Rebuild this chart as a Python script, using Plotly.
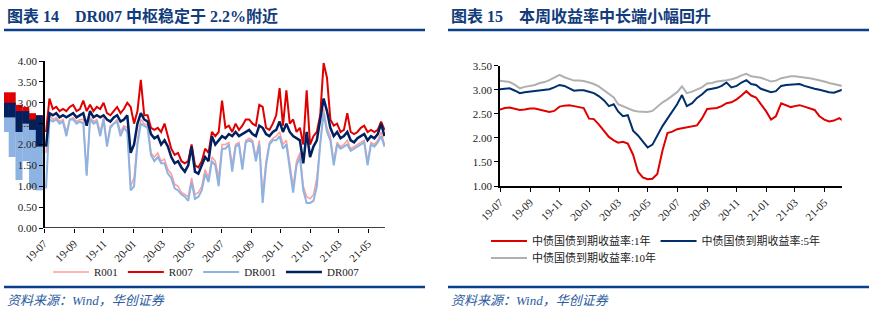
import plotly.graph_objects as go

# ---------------- Left chart data (weekly samples) ----------------
left_dates = [
    '2019-07-05','2019-07-12','2019-07-19','2019-07-26','2019-08-02','2019-08-09','2019-08-16','2019-08-23','2019-08-30',
    '2019-09-06','2019-09-13','2019-09-20','2019-09-27','2019-10-04','2019-10-11','2019-10-18','2019-10-25','2019-11-01',
    '2019-11-08','2019-11-15','2019-11-22','2019-11-29','2019-12-06','2019-12-13','2019-12-20','2019-12-27','2020-01-03',
    '2020-01-10','2020-01-17','2020-01-24','2020-01-31','2020-02-07','2020-02-14','2020-02-21','2020-02-28','2020-03-06',
    '2020-03-13','2020-03-20','2020-03-27','2020-04-03','2020-04-10','2020-04-17','2020-04-24','2020-05-01','2020-05-08',
    '2020-05-15','2020-05-22','2020-05-29','2020-06-05','2020-06-12','2020-06-19','2020-06-26','2020-07-03','2020-07-10',
    '2020-07-17','2020-07-24','2020-07-31','2020-08-07','2020-08-14','2020-08-21','2020-08-28','2020-09-04','2020-09-11',
    '2020-09-18','2020-09-25','2020-10-02','2020-10-09','2020-10-16','2020-10-23','2020-10-30','2020-11-06','2020-11-13',
    '2020-11-20','2020-11-27','2020-12-04','2020-12-11','2020-12-18','2020-12-25','2021-01-01','2021-01-08','2021-01-15',
    '2021-01-22','2021-01-29','2021-02-05','2021-02-12','2021-02-19','2021-02-26','2021-03-05','2021-03-12','2021-03-19',
    '2021-03-26','2021-04-02','2021-04-09','2021-04-16','2021-04-23','2021-04-30','2021-05-07','2021-05-14','2021-05-21',
    '2021-05-28','2021-06-04']

dr007 = [1.95,2.75,2.7,2.75,2.65,2.7,2.65,2.7,2.75,2.65,2.7,2.75,2.45,2.8,2.65,2.7,2.65,2.7,2.6,2.55,2.65,2.7,2.55,2.6,2.7,
         1.8,2.0,2.5,2.75,2.6,2.55,2.25,2.15,2.2,2.0,2.1,1.95,1.7,1.55,1.6,1.45,1.35,1.5,1.95,1.35,1.3,1.5,1.7,1.6,2.2,
         2.0,2.1,2.2,2.15,2.25,2.2,2.3,2.2,2.25,2.3,2.35,2.25,2.2,2.45,2.4,2.25,2.2,2.3,2.35,2.55,2.3,2.5,2.3,2.2,2.15,
         2.1,1.55,2.3,1.7,1.95,2.1,2.6,3.1,2.8,2.4,2.2,2.3,2.15,2.2,2.3,2.1,2.05,2.15,2.2,2.25,2.1,2.2,2.15,2.25,2.5,2.2]
r007 = [2.3,3.1,2.85,2.9,2.8,2.85,2.8,2.9,2.95,2.8,2.85,3.05,2.8,2.95,2.8,2.9,2.85,3.0,2.75,2.7,2.8,2.9,2.75,2.85,3.0,
        2.9,2.5,2.8,3.55,2.7,2.7,2.4,2.35,2.4,2.3,2.5,2.2,1.9,1.75,1.8,1.6,1.55,1.6,2.0,1.5,1.45,1.6,1.9,1.8,2.3,
        2.2,2.3,3.05,2.4,2.45,2.3,2.5,2.35,2.45,2.6,2.6,2.5,2.45,2.95,2.9,2.4,2.35,2.5,2.7,3.35,2.45,3.3,2.5,2.6,2.3,
        2.4,2.0,3.3,2.0,2.2,2.3,2.7,3.95,3.6,2.6,2.45,2.5,2.3,2.35,2.75,2.3,2.25,2.3,2.4,2.45,2.3,2.35,2.3,2.35,2.55,2.35]
dr001 = [0.95,2.6,2.55,2.6,2.5,2.55,2.2,2.6,2.6,2.5,2.55,2.5,1.25,2.6,2.5,2.55,2.2,2.6,1.95,2.4,2.5,2.55,2.2,2.4,2.3,
         0.9,1.0,2.0,2.5,2.45,2.4,1.75,1.6,1.7,1.55,1.55,1.3,1.2,0.95,0.9,0.8,0.75,0.65,1.1,0.7,0.75,0.9,1.3,1.1,1.6,
         1.5,1.0,1.9,1.9,2.0,1.35,1.95,2.0,1.4,2.05,2.1,2.05,1.6,2.0,0.6,1.5,2.0,2.1,2.1,2.2,1.9,2.0,1.4,0.85,1.5,
         1.7,0.9,0.6,0.6,0.65,1.0,2.0,2.75,2.3,2.1,1.5,2.0,1.9,1.95,2.0,1.85,1.9,1.95,2.0,2.05,1.5,2.0,1.95,2.05,2.2,1.95]
r001 = [1.8,2.7,2.6,2.65,2.55,2.6,2.3,2.6,2.65,2.55,2.6,2.6,1.3,2.65,2.55,2.6,2.3,2.65,2.0,2.45,2.5,2.6,2.3,2.45,2.4,
        1.0,1.2,2.1,2.6,2.5,2.45,1.8,1.7,1.8,1.6,1.65,1.4,1.3,1.05,1.0,0.85,0.8,0.75,1.2,0.8,0.85,1.0,1.4,1.2,1.7,
        1.6,1.2,2.0,2.0,2.05,1.5,2.0,2.05,1.5,2.1,2.15,2.1,1.7,2.1,0.8,1.6,2.05,2.15,2.2,2.3,2.0,2.1,1.6,1.0,1.6,
        1.8,1.0,0.75,0.7,0.8,1.2,2.1,2.85,2.4,2.2,1.6,2.05,1.95,2.0,2.1,1.9,1.95,2.0,2.05,2.1,1.6,2.05,2.0,2.1,2.3,2.0]

# early-period readings drawn left of the axis in the source (high / low per block)
pre_dates = ['2019-04-12','2019-04-26','2019-05-10','2019-05-24','2019-06-07','2019-06-21']
pre_r001_hi = [2.8,2.7,2.5,2.6,2.3,2.1];   pre_r001_lo = [2.5,2.4,2.2,2.3,1.9,1.8]
pre_r007_hi = [3.25,3.25,2.95,2.9,2.75,2.7]; pre_r007_lo = [2.75,2.75,2.6,2.6,2.1,2.1]
pre_dr001_hi = [2.95,2.95,2.4,2.6,2.4,2.1]; pre_dr001_lo = [2.3,1.7,1.15,1.6,0.95,0.9]
pre_dr007_hi = [3.0,3.0,2.8,2.8,2.6,2.7];  pre_dr007_lo = [2.65,2.65,2.3,2.5,2.35,1.95]

left_names = ['R001','R007','DR001','DR007']
left_tickvals = ['2019-07-01','2019-09-01','2019-11-01','2020-01-01','2020-03-01','2020-05-01',
                 '2020-07-01','2020-09-01','2020-11-01','2021-01-01','2021-03-01','2021-05-01']
left_ticktext = ['19-07','19-09','19-11','20-01','20-03','20-05','20-07','20-09','20-11','21-01','21-03','21-05']

# ---------------- Right chart data ----------------
right_dates = [
    '2019-07-01','2019-07-11','2019-07-21','2019-08-01','2019-08-11','2019-08-21','2019-09-01','2019-09-11','2019-09-21',
    '2019-10-01','2019-10-11','2019-10-21','2019-11-01','2019-11-11','2019-11-21','2019-12-01','2019-12-11','2019-12-21',
    '2020-01-01','2020-01-11','2020-01-21','2020-02-01','2020-02-11','2020-02-21','2020-03-01','2020-03-11','2020-03-21',
    '2020-04-01','2020-04-11','2020-04-21','2020-05-01','2020-05-11','2020-05-21','2020-06-01','2020-06-11','2020-06-21',
    '2020-07-01','2020-07-11','2020-07-21','2020-08-01','2020-08-11','2020-08-21','2020-09-01','2020-09-11','2020-09-21',
    '2020-10-01','2020-10-11','2020-10-21','2020-11-01','2020-11-11','2020-11-21','2020-12-01','2020-12-11','2020-12-21',
    '2021-01-01','2021-01-11','2021-01-21','2021-02-01','2021-02-11','2021-02-21','2021-03-01','2021-03-11','2021-03-21',
    '2021-04-01','2021-04-11','2021-04-21','2021-05-01','2021-05-11','2021-05-21','2021-06-01','2021-06-07']
y1 = [2.59,2.62,2.63,2.6,2.58,2.59,2.61,2.61,2.59,2.56,2.54,2.56,2.65,2.67,2.68,2.66,2.64,2.62,
      2.4,2.39,2.28,2.15,2.02,1.95,1.9,1.92,1.88,1.65,1.3,1.18,1.14,1.15,1.25,1.75,2.1,2.13,
      2.18,2.2,2.22,2.24,2.26,2.4,2.6,2.61,2.62,2.66,2.72,2.74,2.8,2.88,2.97,2.88,2.84,2.7,
      2.55,2.38,2.45,2.72,2.68,2.64,2.66,2.68,2.65,2.61,2.58,2.45,2.38,2.34,2.36,2.41,2.37]
y5 = [3.01,3.02,3.03,2.98,2.93,2.95,2.96,2.97,2.98,3.0,3.01,3.05,3.1,3.08,3.03,2.98,2.99,2.99,
      2.96,2.93,2.87,2.78,2.66,2.7,2.55,2.45,2.47,2.15,2.05,1.92,1.8,1.86,2.05,2.25,2.4,2.55,
      2.7,2.89,2.66,2.72,2.83,2.9,3.0,3.02,3.04,3.08,3.15,3.05,3.08,3.15,3.2,3.12,3.1,3.02,
      2.98,2.95,2.97,3.08,3.1,3.11,3.12,3.12,3.08,3.04,3.02,3.0,2.97,2.95,2.94,2.97,3.0]
y10 = [3.19,3.17,3.16,3.1,3.03,3.06,3.08,3.1,3.14,3.16,3.2,3.25,3.31,3.26,3.22,3.19,3.19,3.18,
       3.15,3.12,3.07,2.99,2.9,2.84,2.7,2.66,2.62,2.57,2.55,2.55,2.54,2.56,2.65,2.74,2.8,2.88,
       2.95,3.07,2.93,2.96,3.0,3.05,3.13,3.14,3.17,3.18,3.2,3.22,3.25,3.3,3.33,3.28,3.27,3.25,
       3.21,3.17,3.19,3.24,3.26,3.28,3.28,3.27,3.25,3.24,3.22,3.2,3.17,3.14,3.12,3.1,3.08]
right_names = ['中债国债到期收益率:1年','中债国债到期收益率:5年','中债国债到期收益率:10年']
right_tickvals = left_tickvals
right_ticktext = left_ticktext

# ---------------- Styling ----------------
W, H = 878, 324
def px(x): return x / W
def py(y): return 1 - y / H

SERIF = 'Liberation Serif, Noto Sans CJK SC'
C_R001, C_R007, C_DR001, C_DR007 = '#ff9c9c', '#e00000', '#8db3e2', '#002060'
C_1Y, C_5Y, C_10Y = '#e00000', '#002f6c', '#b0b0b0'
BLUE = '#0b3f8a'

fig = go.Figure()

# early blocks (left of axis)
def blocks(hi, lo):
    xs, ys = [], []
    for d, h, l in zip(pre_dates, hi, lo):
        xs += [d, d, None]; ys += [h, l, None]
    return xs, ys

for hi, lo, col in [(pre_r001_hi, pre_r001_lo, C_R001), (pre_r007_hi, pre_r007_lo, C_R007),
                    (pre_dr001_hi, pre_dr001_lo, C_DR001), (pre_dr007_hi, pre_dr007_lo, C_DR007)]:
    xs, ys = blocks(hi, lo)
    fig.add_trace(go.Scatter(x=xs, y=ys, mode='lines', line=dict(color=col, width=7),
                             showlegend=False, hoverinfo='skip', xaxis='x', yaxis='y'))

for ys, name, col, wd in [(r001, 'R001', C_R001, 1.5), (r007, 'R007', C_R007, 2),
                          (dr001, 'DR001', C_DR001, 2), (dr007, 'DR007', C_DR007, 2.5)]:
    fig.add_trace(go.Scatter(x=left_dates, y=ys, name=name, mode='lines',
                             line=dict(color=col, width=wd), xaxis='x', yaxis='y', legend='legend'))

for ys, name, col, lg in [(y1, right_names[0], C_1Y, 'legend2'), (y5, right_names[1], C_5Y, 'legend2'),
                          (y10, right_names[2], C_10Y, 'legend3')]:
    fig.add_trace(go.Scatter(x=right_dates, y=ys, name=name, mode='lines',
                             line=dict(color=col, width=2), xaxis='x2', yaxis='y2', legend=lg))

tickfont = dict(family=SERIF, size=11, color='#222')
axis_common = dict(showgrid=False, zeroline=False, ticks='outside', ticklen=4, tickcolor='black',
                   tickwidth=1.2, tickfont=tickfont, automargin=False)

left_end = '2021-06-05'
right_end = '2021-06-06'
legfont = dict(family=SERIF, size=11, color='#222')
fig.update_layout(
    width=W, height=H, margin=dict(l=0, r=0, t=0, b=0, autoexpand=False),
    paper_bgcolor='white', plot_bgcolor='rgba(0,0,0,0)',
    xaxis=dict(domain=[px(4), px(385)], range=['2019-04-09', left_end], type='date',
               tickvals=left_tickvals, ticktext=left_ticktext, tickangle=-45, showline=False,
               anchor='y', **axis_common),
    yaxis=dict(domain=[py(228), py(61)], range=[0, 4], dtick=0.5, tickformat='.2f',
               anchor='free', position=px(44), showline=True, linecolor='black', linewidth=1.5,
               **axis_common),
    xaxis2=dict(domain=[px(500), px(841.7)], range=['2019-07-01', right_end], type='date',
                tickvals=right_tickvals, ticktext=right_ticktext, tickangle=-45, showline=True,
                linecolor='black', linewidth=1.5, anchor='y2', **axis_common),
    yaxis2=dict(domain=[py(186), py(65.7)], range=[1, 3.5], dtick=0.5, tickformat='.2f',
                anchor='x2', showline=True, linecolor='black', linewidth=1.5, **axis_common),
    legend=dict(orientation='h', x=px(48), y=py(272), xanchor='left', yanchor='middle',
                font=legfont, bgcolor='rgba(0,0,0,0)', itemwidth=36),
    legend2=dict(orientation='h', x=px(486), y=py(241), xanchor='left', yanchor='middle',
                 font=legfont, bgcolor='rgba(0,0,0,0)', itemwidth=36),
    legend3=dict(orientation='h', x=px(486), y=py(258), xanchor='left', yanchor='middle',
                 font=legfont, bgcolor='rgba(0,0,0,0)', itemwidth=36),
    showlegend=True,
)

# x-axis baseline of left chart (starts at the y axis)
fig.add_shape(type='line', xref='x', yref='y', x0='2019-07-01', x1=left_end, y0=0, y1=0,
              line=dict(color='black', width=1.5))

# header / footer rules
for x0, x1 in [(4, 425), (448, 869)]:
    fig.add_shape(type='line', xref='paper', yref='paper', x0=px(x0), x1=px(x1), y0=py(30), y1=py(30),
                  line=dict(color=BLUE, width=2.5))
    fig.add_shape(type='line', xref='paper', yref='paper', x0=px(x0), x1=px(x1), y0=py(287), y1=py(287),
                  line=dict(color=BLUE, width=2.5))

NB = '\u00a0'
titles = [(5, '图表' + NB + '14' + NB * 4 + 'DR007' + NB + '中枢稳定于' + NB + '2.2%附近'),
          (449, '图表' + NB + '15' + NB * 4 + '本周收益率中长端小幅回升')]
for x, t in titles:
    fig.add_annotation(text='<b>' + t + '</b>', xref='paper', yref='paper', x=px(x), y=py(16),
                       xanchor='left', yanchor='middle', showarrow=False,
                       font=dict(family=SERIF, size=16, color='#123c7c'))
for x in [5, 449]:
    fig.add_annotation(text='<i>资料来源：Wind，华创证券</i>', xref='paper', yref='paper', x=px(x), y=py(300),
                       xanchor='left', yanchor='middle', showarrow=False,
                       font=dict(family=SERIF, size=13, color='#2a5c9e'))

fig.write_html('out.html')
